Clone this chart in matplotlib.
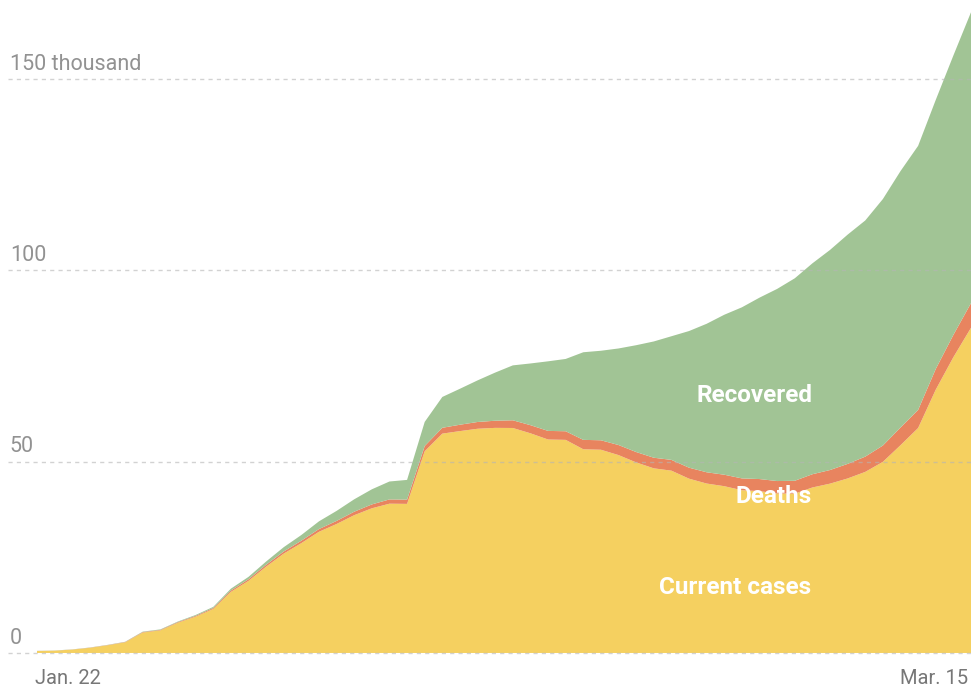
import numpy as np
import matplotlib.pyplot as plt

# day index: 0 = Jan. 22, 53 = Mar. 15 (values in thousands)
days = np.arange(54)

confirmed = [0.555, 0.654, 0.941, 1.434, 2.118, 2.927, 5.578, 6.166, 8.234, 9.927,
             12.04, 16.79, 19.88, 23.89, 27.64, 30.82, 34.39, 37.12, 40.15, 42.76,
             44.80, 45.22, 60.37, 66.89, 69.03, 71.22, 73.26, 75.14, 75.64, 76.20,
             76.82, 78.57, 78.96, 79.56, 80.41, 81.39, 82.75, 84.11, 86.01,
             88.37, 90.31, 92.84, 95.12, 97.89, 101.8, 105.3, 109.3, 113.0, 118.6,
             125.9, 132.5, 144.5, 156.1, 167.4]

deaths = [0.017, 0.018, 0.026, 0.042, 0.056, 0.082, 0.131, 0.133, 0.171, 0.213,
          0.259, 0.362, 0.426, 0.492, 0.564, 0.634, 0.719, 0.806, 0.906, 1.013,
          1.113, 1.118, 1.371, 1.523, 1.666, 1.770, 1.868, 2.007, 2.122, 2.247,
          2.251, 2.458, 2.469, 2.629, 2.708, 2.770, 2.814, 2.872, 2.941,
          2.996, 3.085, 3.160, 3.254, 3.348, 3.460, 3.558, 3.802, 3.988, 4.262,
          4.615, 4.720, 5.404, 5.819, 6.440]

recovered = [0.028, 0.030, 0.036, 0.039, 0.052, 0.061, 0.107, 0.126, 0.143, 0.222,
             0.284, 0.472, 0.623, 0.852, 1.124, 1.487, 2.011, 2.616, 3.244, 3.946,
             4.683, 5.150, 6.295, 8.058, 9.395, 10.87, 12.58, 14.35, 16.12, 18.18,
             18.89, 22.89, 23.39, 25.23, 27.91, 30.38, 32.3, 35.7, 38.8,
             41.8, 44.7, 47.4, 50.2, 52.9, 55.1, 57.5, 59.9, 61.7, 64.4,
             67.0, 69.0, 70.3, 73.0, 76.0]

current = np.array(confirmed) - np.array(deaths) - np.array(recovered)

yellow = '#F5D060'
red = '#E8845F'
green = '#A1C495'

fig = plt.figure(figsize=(9.71, 6.88), dpi=100)
ax = fig.add_axes([0, 0, 1, 1])
ax.stackplot(days, current, deaths, recovered,
             colors=[yellow, red, green], linewidth=0)
ax.set_xlim(-2.1, 53)
ax.set_ylim(-9.15, 170.6)
ax.axis('off')

font = 'Roboto'
for v in [0, 50, 100, 150]:
    ax.hlines(v, -1.65, 53, colors='#b5b5b5', linestyles=(0, (3, 3)),
              linewidth=1, alpha=0.6, zorder=3)
    lab = '150 thousand' if v == 150 else str(v)
    ax.text(-1.55, v + 2.4, lab, color='#929292', fontsize=15.5,
            family=font, ha='left', va='baseline')

ax.text(-0.1, -8.1, 'Jan. 22', color='#777777', fontsize=14.5, family=font,
        ha='left', va='baseline')
ax.text(52.85, -8.1, 'Mar. 15', color='#777777', fontsize=14.5, family=font,
        ha='right', va='baseline')

ax.text(40.7, 67.2, 'Recovered', color='white', fontsize=17.5, fontweight='bold',
        family=font, ha='center', va='center', zorder=4)
ax.text(41.8, 41.0, 'Deaths', color='white', fontsize=17.5, fontweight='bold',
        family=font, ha='center', va='center', zorder=4)
ax.text(39.6, 17.2, 'Current cases', color='white', fontsize=17.5, fontweight='bold',
        family=font, ha='center', va='center', zorder=4)

fig.savefig('out.png', dpi=100)
